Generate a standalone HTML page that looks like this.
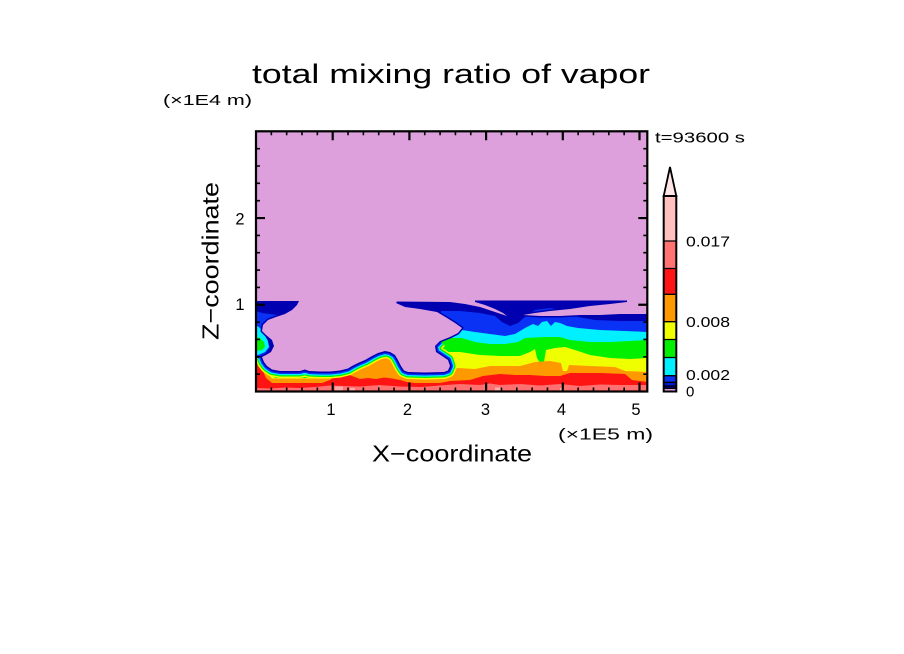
<!DOCTYPE html>
<html>
<head>
<meta charset="utf-8">
<style>
html,body{margin:0;padding:0;background:#fff;}
svg{display:block;}
text{font-family:"Liberation Sans",sans-serif;fill:#000;}
</style>
</head>
<body>
<svg width="904" height="654" viewBox="0 0 904 654" xmlns="http://www.w3.org/2000/svg">
<defs>
<clipPath id="pc"><rect x="257" y="132" width="390" height="259.5"/></clipPath>
</defs>
<rect width="904" height="654" fill="#fff"/>

<!-- title & labels -->
<text x="252" y="83" font-size="27" textLength="398" lengthAdjust="spacingAndGlyphs">total mixing ratio of vapor</text>
<text x="163" y="105" font-size="15" textLength="89" lengthAdjust="spacingAndGlyphs">(×1E4 m)</text>
<text x="655" y="142.5" font-size="15" textLength="90" lengthAdjust="spacingAndGlyphs">t=93600 s</text>
<text x="558" y="439.5" font-size="15.5" textLength="95" lengthAdjust="spacingAndGlyphs">(×1E5 m)</text>
<text x="372" y="461.7" font-size="23" textLength="160" lengthAdjust="spacingAndGlyphs">X−coordinate</text>
<text transform="translate(218.3,340) rotate(-90)" x="0" y="0" font-size="23" textLength="158" lengthAdjust="spacingAndGlyphs">Z−coordinate</text>

<g font-size="16.5" text-anchor="middle">
<text x="331" y="415">1</text>
<text x="407.5" y="415">2</text>
<text x="485.5" y="415">3</text>
<text x="561.5" y="415">4</text>
<text x="636" y="415">5</text>
<text x="240" y="224.5">2</text>
<text x="240" y="310">1</text>
</g>

<!-- field -->
<g clip-path="url(#pc)">
<rect x="250" y="125" width="410" height="275" fill="#0000b0"/>
<path fill="#0a32f5" d="M256,392 L256,358 L262,362 L268,370 L275,374 L440,374 L441,311 L460,311 L480,313 L495,316 L502,322 L510,326 L518,323 L526,316 L535,310 L550,308 L565,311 L578,317 L595,320 L620,321 L648,321 L648,392 Z"/>
<path fill="#00f0ff" d="M256,392 L256,358 L268,370 L275,376 L440,376 L441,330 L462,330 L475,332 L490,334 L505,336 L515,334 L525,328 L533,324 L538,326 L542,322 L547,321 L551,326 L555,322 L560,323 L567,326 L578,328 L600,330 L625,331 L648,332 L648,392 Z"/>
<path fill="#00f000" d="M256,392 L256,358 L268,370 L275,377 L440,377 L441,338 L462,338 L475,342 L490,344 L505,344 L518,342 L525,338 L545,337 L560,337 L570,340 L590,342 L610,342 L630,341 L648,340 L648,392 Z"/>
<path fill="#f0ff00" d="M256,392 L256,357 L262,361 L267,369 L275,378 L328,378 L335,374 L405,374 L412,378 L440,378 L441,352 L460,352 L480,355 L500,356 L520,356 L530,352 L535,349 L537,358 L540,363 L544,362 L546,350 L555,348 L565,347 L575,350 L590,355 L610,358 L630,359 L648,358 L648,392 Z"/>
<path fill="#ff9900" d="M256,392 L256,358 L262,363 L266,371 L272,378.5 L328,378.5 L335,374 L342,369 L350,366 L358,362 L366,358 L374,354 L380,352 L388,352 L394,355 L398,360 L402,367 L406,373 L412,378.5 L440,378.5 L441,368 L458,368 L475,369 L490,366 L520,366 L535,362 L550,361 L561,363 L563,371 L567,371 L569,365 L590,366 L615,367 L625,371 L648,372 L648,392 Z"/>
<path fill="#ff1414" d="M256,392 L256,359 L259,362 L262,369 L266,378 L272,383 L300,383 L322,383 L330,380 L337,374 L344,372 L352,376 L360,379 L368,378 L376,379 L384,377.5 L392,378.5 L400,380 L407,382 L415,383 L440,383 L450,381 L470,380 L483,376 L500,374 L515,375 L530,375 L545,376 L560,376 L570,373 L600,373 L625,374 L632,380 L648,382 L648,392 Z"/>
<path fill="#ff7070" d="M256,392 L256,388 L270,388.5 L285,387.5 L300,388 L315,387 L330,385.5 L345,386 L360,386.5 L380,385 L400,386.5 L420,387 L440,385.5 L460,384 L480,385 L490,383.5 L500,385 L520,384 L540,385.5 L560,384 L580,386 L600,384.5 L620,385 L648,385 L648,392 Z"/>
<g fill="#ffaaaa">
<rect x="335" y="386.5" width="8" height="5"/>
<rect x="350" y="388" width="5" height="3.5"/>
<rect x="495" y="387.5" width="6" height="4"/>
<rect x="560" y="388" width="4" height="3.5"/>
</g>

<!-- left edge pocket -->
<path fill="#0a32f5" d="M256,311 L262,313 L270,314 L278,315 L268,320 L262,326 L262,333 L266,340 L270,347 L266,353 L260,356 L256,356 Z"/>
<path fill="#00f0ff" d="M256,325 L260,328 L264,334 L268,341 L269,347 L265,352 L258,355 L256,355 Z"/>
<path fill="#00f000" d="M256,337 L260,338 L264,342 L265,347 L262,350 L256,351 Z"/>

<!-- rings around lower blob -->
<g fill="none" stroke-linejoin="round" stroke-linecap="butt">
<path stroke="#f0ff00" stroke-width="14" d="M262,357 L264,362 L267,366 L272,369.5 L280,371 L300,371 L305,369.5 L309,371 L320,371.5 L330,371.5 L340,370.5 L348,368.5 L352,366 L358,363 L365,360 L372,356 L378,353 L385,351 L390,352 L395,355 L398,360 L401,366 L404,370.5 L408,372 L425,372.5 L444,372 L448,370.5 L450,366 L448,360 L442,356 L436,352 L435,346 L440,341"/>
<path stroke="#00f000" stroke-width="11" d="M262,357 L264,362 L267,366 L272,369.5 L280,371 L300,371 L305,369.5 L309,371 L320,371.5 L330,371.5 L340,370.5 L348,368.5 L352,366 L358,363 L365,360 L372,356 L378,353 L385,351 L390,352 L395,355 L398,360 L401,366 L404,370.5 L408,372 L425,372.5 L444,372 L448,370.5 L450,366 L448,360 L442,356 L436,352 L435,346 L440,341"/>
<path stroke="#00f0ff" stroke-width="8.5" d="M262,357 L264,362 L267,366 L272,369.5 L280,371 L300,371 L305,369.5 L309,371 L320,371.5 L330,371.5 L340,370.5 L348,368.5 L352,366 L358,363 L365,360 L372,356 L378,353 L385,351 L390,352 L395,355 L398,360 L401,366 L404,370.5 L408,372 L425,372.5 L444,372 L448,370.5 L450,366 L448,360 L442,356 L436,352 L435,346 L440,341"/>
<path stroke="#0a32f5" stroke-width="6" d="M262,357 L264,362 L267,366 L272,369.5 L280,371 L300,371 L305,369.5 L309,371 L320,371.5 L330,371.5 L340,370.5 L348,368.5 L352,366 L358,363 L365,360 L372,356 L378,353 L385,351 L390,352 L395,355 L398,360 L401,366 L404,370.5 L408,372 L425,372.5 L444,372 L448,370.5 L450,366 L448,360 L442,356 L436,352 L435,346 L440,341"/>
</g>

<!-- plum region -->
<path fill="#dda0dd" stroke="#0000b0" stroke-width="3" stroke-linejoin="round" d="M250,125 L660,125 L660,314 L640,314 L620,314 L600,315 L580,315 L560,316 L540,316 L523,315 L535,313 L550,311 L570,309 L590,306 L610,304 L627,302 L627,300.5 L475,300.5 L475,302 L485,305 L495,309 L503,313 L507,316 L495,312 L480,307 L465,304 L450,302 L397,301.5 L396,303 L405,307 L420,309 L437,312 L447,318 L455,323 L462,328 L458,333 L450,337 L440,341 L435,346 L436,352 L442,356 L448,360 L450,366 L448,370.5 L444,372 L425,372.5 L408,372 L404,370.5 L401,366 L398,360 L395,355 L390,352 L385,351 L378,353 L372,356 L365,360 L358,363 L352,366 L348,368.5 L340,370.5 L330,371.5 L320,371.5 L309,371 L305,369.5 L300,371 L280,371 L272,369.5 L267,366 L264,362 L262,357 L266,355 L271,352 L274,346 L272,340 L266,335 L262,331 L263,325 L268,320 L276,317 L285,314 L292,310 L297,305 L299,301 L250,301 Z"/>
<path fill="#dda0dd" d="M250,125 L660,125 L660,314 L640,314 L620,314 L600,315 L580,315 L560,316 L540,316 L523,315 L535,313 L550,311 L570,309 L590,306 L610,304 L627,302 L627,300.5 L475,300.5 L475,302 L485,305 L495,309 L503,313 L507,316 L495,312 L480,307 L465,304 L450,302 L397,301.5 L396,303 L405,307 L420,309 L437,312 L447,318 L455,323 L462,328 L458,333 L450,337 L440,341 L435,346 L436,352 L442,356 L448,360 L450,366 L448,370.5 L444,372 L425,372.5 L408,372 L404,370.5 L401,366 L398,360 L395,355 L390,352 L385,351 L378,353 L372,356 L365,360 L358,363 L352,366 L348,368.5 L340,370.5 L330,371.5 L320,371.5 L309,371 L305,369.5 L300,371 L280,371 L272,369.5 L267,366 L264,362 L262,357 L266,355 L271,352 L274,346 L272,340 L266,335 L262,331 L263,325 L268,320 L276,317 L285,314 L292,310 L297,305 L299,301 L250,301 Z"/>
</g>

<!-- frame -->
<rect x="256" y="131.3" width="391.3" height="260.2" fill="none" stroke="#000" stroke-width="2.2"/>

<!-- minor ticks -->
<path stroke="#000" stroke-width="1.6" fill="none" d="
M271.34,391.5v-4 M286.68,391.5v-4 M302.02,391.5v-4 M317.36,391.5v-4 M348.04,391.5v-4 M363.38,391.5v-4 M378.72,391.5v-4 M394.06,391.5v-4 M424.74,391.5v-4 M440.08,391.5v-4 M455.42,391.5v-4 M470.76,391.5v-4 M501.44,391.5v-4 M516.78,391.5v-4 M532.12,391.5v-4 M547.46,391.5v-4 M578.14,391.5v-4 M593.48,391.5v-4 M608.82,391.5v-4 M624.16,391.5v-4
M271.34,131.3v4 M286.68,131.3v4 M302.02,131.3v4 M317.36,131.3v4 M348.04,131.3v4 M363.38,131.3v4 M378.72,131.3v4 M394.06,131.3v4 M424.74,131.3v4 M440.08,131.3v4 M455.42,131.3v4 M470.76,131.3v4 M501.44,131.3v4 M516.78,131.3v4 M532.12,131.3v4 M547.46,131.3v4 M578.14,131.3v4 M593.48,131.3v4 M608.82,131.3v4 M624.16,131.3v4
M256,374.15h4 M256,356.81h4 M256,339.46h4 M256,322.12h4 M256,287.42h4 M256,270.08h4 M256,252.73h4 M256,235.39h4 M256,200.69h4 M256,183.35h4 M256,166h4 M256,148.66h4
M647.3,374.15h-4 M647.3,356.81h-4 M647.3,339.46h-4 M647.3,322.12h-4 M647.3,287.42h-4 M647.3,270.08h-4 M647.3,252.73h-4 M647.3,235.39h-4 M647.3,200.69h-4 M647.3,183.35h-4 M647.3,166h-4 M647.3,148.66h-4"/>
<!-- major ticks -->
<path stroke="#000" stroke-width="2.2" fill="none" d="
M332.7,391.5v-9 M409.4,391.5v-9 M486.1,391.5v-9 M562.8,391.5v-9 M639.5,391.5v-9
M332.7,131.3v9 M409.4,131.3v9 M486.1,131.3v9 M562.8,131.3v9 M639.5,131.3v9
M256,304.77h9 M256,218.04h9
M647.3,304.77h-9 M647.3,218.04h-9"/>

<!-- colorbar -->
<path d="M663.7,196 L670,167 L676.3,196 Z" fill="#ffe6e6" stroke="#000" stroke-width="1.8" stroke-linejoin="miter"/>
<rect x="663.7" y="196" width="12.6" height="45" fill="#ffc0c0"/>
<rect x="663.7" y="241" width="12.6" height="27.5" fill="#ff7373"/>
<rect x="663.7" y="268.5" width="12.6" height="25.8" fill="#ff1414"/>
<rect x="663.7" y="294.3" width="12.6" height="27.4" fill="#ff9900"/>
<rect x="663.7" y="321.7" width="12.6" height="17.8" fill="#f0ff00"/>
<rect x="663.7" y="339.5" width="12.6" height="18" fill="#00f000"/>
<rect x="663.7" y="357.5" width="12.6" height="18.2" fill="#00f0ff"/>
<rect x="663.7" y="375.7" width="12.6" height="6.6" fill="#0a32f5"/>
<rect x="663.7" y="382.3" width="12.6" height="3.7" fill="#0018d0"/>
<rect x="663.7" y="386" width="12.6" height="2.3" fill="#00009c"/>
<rect x="663.7" y="388.3" width="12.6" height="3.2" fill="#dda0dd"/>
<path stroke="#000" stroke-width="1.3" fill="none" d="M663.7,241h12.6 M663.7,268.5h12.6 M663.7,294.3h12.6 M663.7,321.7h12.6 M663.7,339.5h12.6 M663.7,357.5h12.6 M663.7,375.7h12.6 M663.7,382.3h12.6 M663.7,386h12.6 M663.7,388.3h12.6"/>
<rect x="663.7" y="196" width="12.6" height="195.5" fill="none" stroke="#000" stroke-width="2"/>

<g font-size="15">
<text x="686" y="246.5" textLength="44" lengthAdjust="spacingAndGlyphs">0.017</text>
<text x="686" y="327" textLength="44" lengthAdjust="spacingAndGlyphs">0.008</text>
<text x="686" y="380" textLength="44" lengthAdjust="spacingAndGlyphs">0.002</text>
<text x="686" y="396.7">0</text>
</g>
</svg>
</body>
</html>
